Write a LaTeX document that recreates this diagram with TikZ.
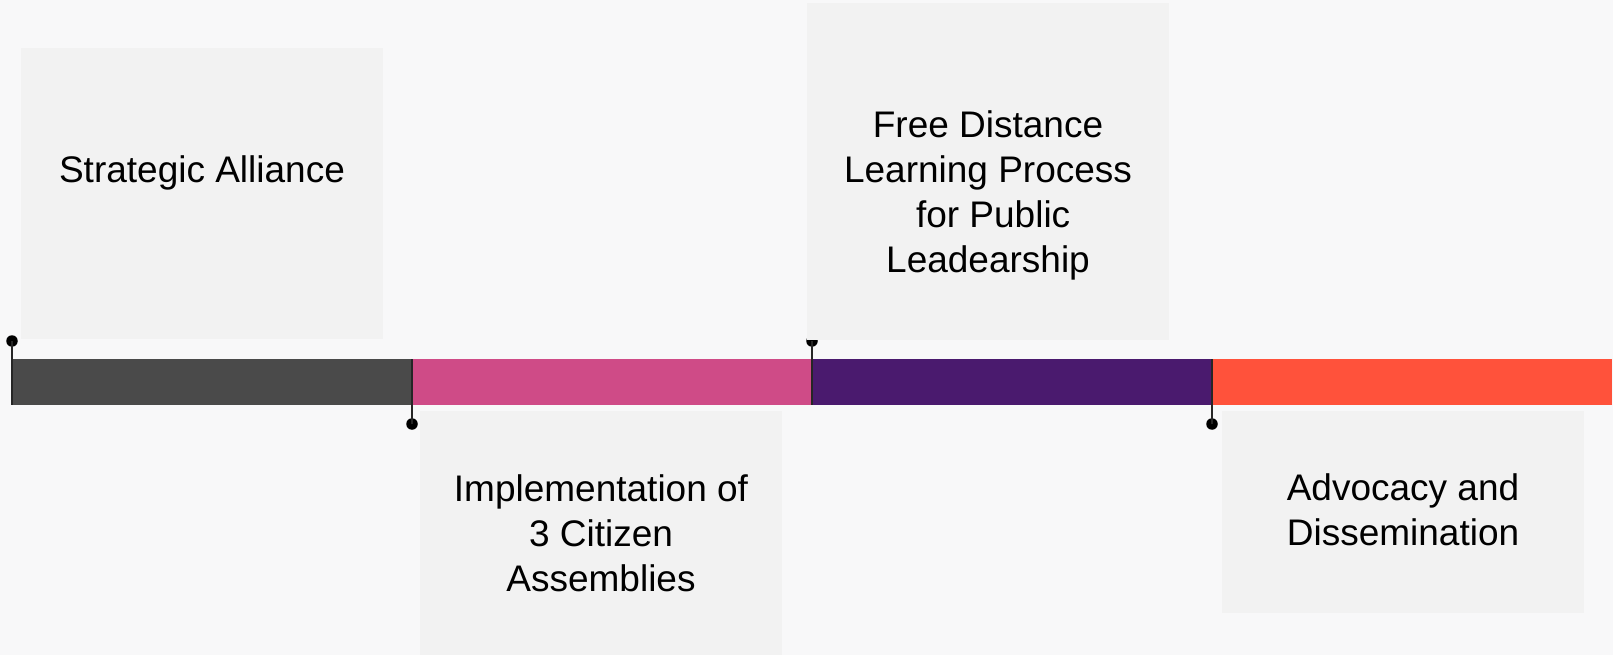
\documentclass[tikz,border=0pt]{standalone}
\usepackage{fontspec}
\setmainfont{Liberation Sans}
\usetikzlibrary{positioning}

\definecolor{pagebg}{HTML}{F8F8F9}
\definecolor{cardbg}{HTML}{F2F2F2}
\definecolor{segdark}{HTML}{4A4A4A}
\definecolor{segpink}{HTML}{CF4B87}
\definecolor{segpurple}{HTML}{4A1A6E}
\definecolor{segorange}{HTML}{FF523B}

\tikzset{
	card/.style={fill=cardbg, inner sep=0pt, outer sep=0pt, minimum width=362pt},
	cardtext/.style={align=center, inner sep=0pt, font=\fontsize{37}{45}\selectfont},
	seg/.style={inner sep=0pt, outer sep=0pt, minimum width=400pt, minimum height=46pt},
	marker/.style={circle, fill=black, inner sep=0pt, minimum size=11.5pt},
	stem/.style={line width=1.6pt, draw=black!85},
}

\begin{document}
\begin{tikzpicture}[x=1pt,y=-1pt]

	% Page
	\fill[pagebg] (0,0) rectangle (1613,655);
	\useasboundingbox (0,0) rectangle (1613,655);

	% Timeline bar
	\node[seg, fill=segdark] (seg1) at (212,382) {};
	\node[seg, fill=segpink, right=0pt of seg1] (seg2) {};
	\node[seg, fill=segpurple, right=0pt of seg2] (seg3) {};
	\node[seg, fill=segorange, right=0pt of seg3] (seg4) {};

	% Markers
	\foreach \n/\dy/\far in {1/41/south, 2/-42/north, 3/41/south, 4/-42/north} {
		\node[marker] (m\n) at ([yshift=\dy pt]seg\n.west) {};
		\draw[stem] (m\n.center) -- (seg\n.\far\space west);
	}

	% Cards
	\node[card, minimum height=291pt] (alliance) at (202,193.5) {};
	\node[card, minimum height=244pt] (assemblies) at (601,533) {};
	\node[card, minimum height=337pt] (learning) at (988,171.5) {};
	\node[card, minimum height=202pt] (advocacy) at (1403,512) {};

	% Card texts
	\node[cardtext] (alliance-text) at ([yshift=21pt]alliance.center) {Strategic Alliance};
	\node[cardtext] (assemblies-text) at ([yshift=-0.5pt]assemblies.center) {Implementation of\\3 Citizen\\Assemblies};
	\node[cardtext] (learning-text) at ([yshift=-23.5pt]learning.center) {Free Distance\\Learning Process\\\ for Public\\Leadearship};
	\node[cardtext] (advocacy-text) at ([yshift=2pt]advocacy.center) {Advocacy and\\Dissemination};

\end{tikzpicture}
\end{document}
